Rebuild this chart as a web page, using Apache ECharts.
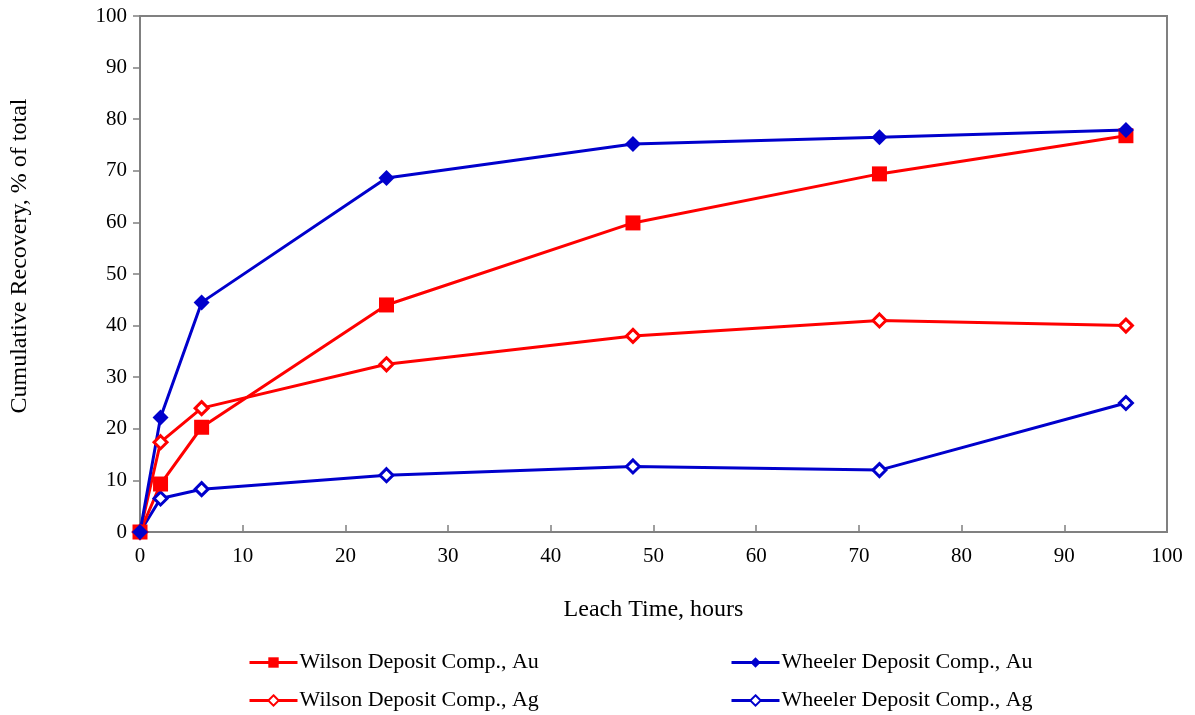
<!DOCTYPE html>
<html>
<head>
<meta charset="utf-8">
<script src="https://cdn.jsdelivr.net/npm/echarts@6/dist/echarts.min.js"></script>
<style>
  html, body { margin: 0; padding: 0; background: #fff; }
  #chart { width: 1195px; height: 715px; }
</style>
</head>
<body>
<div id="chart"></div>
<script>
// leach times (hours)
const hours = [0, 2, 6, 24, 48, 72, 96];

// cumulative recovery, % of total
const wilsonAu = [0, 9.3, 20.3, 44.0, 59.9, 69.4, 76.8];
const wheelerAu = [0, 22.2, 44.5, 68.6, 75.2, 76.5, 77.9];
const wilsonAg = [0, 17.4, 24.0, 32.5, 38.0, 41.0, 40.0];
const wheelerAg = [0, 6.5, 8.3, 11.0, 12.7, 12.0, 25.0];

const RED = '#ff0000';
const BLUE = '#0000cc';
const FONT = '"Liberation Serif", "Times New Roman", serif';

const chart = echarts.init(document.getElementById('chart'));

function pairs(vals) {
  return hours.map((h, i) => [h, vals[i]]);
}

// filled marker series
function solid(name, vals, color, symbol, size) {
  return {
    name: name,
    type: 'line',
    data: pairs(vals),
    symbol: symbol,
    symbolSize: size,
    lineStyle: { color: color, width: 3 },
    itemStyle: { color: color, borderColor: color, borderWidth: 0 },
  };
}

// hollow diamond series (Ag)
function hollow(name, vals, color) {
  return {
    name: name,
    type: 'line',
    data: pairs(vals),
    symbol: 'diamond',
    symbolSize: 13,
    lineStyle: { color: color, width: 3 },
    itemStyle: { color: '#fff', borderColor: color, borderWidth: 3 },
  };
}

const legendCommon = {
  orient: 'vertical',
  top: 650,
  padding: 0,
  itemWidth: 48,
  itemHeight: 13,
  itemGap: 13,
  lineStyle: { width: 3 },
  textStyle: { fontFamily: FONT, fontSize: 22, lineHeight: 25, color: '#000', padding: [0, 0, 0, -3] },
};

const option = {
  animation: false,
  backgroundColor: '#fff',
  legend: [
    Object.assign({ left: 248, data: ['Wilson Deposit Comp., Au', 'Wilson Deposit Comp., Ag'] }, legendCommon),
    Object.assign({ left: 730, data: ['Wheeler Deposit Comp., Au', 'Wheeler Deposit Comp., Ag'] }, legendCommon),
  ],
  grid: {
    left: 140,
    right: 28,
    top: 16,
    bottom: 183,
    show: true,
    borderColor: '#808080',
    borderWidth: 2,
  },
  xAxis: {
    type: 'value',
    min: 0,
    max: 100,
    interval: 10,
    name: 'Leach Time, hours',
    nameLocation: 'middle',
    nameGap: 66,
    nameTextStyle: { fontFamily: FONT, fontSize: 24, color: '#000' },
    axisLine: { lineStyle: { color: '#808080', width: 2 } },
    axisTick: { inside: true, length: 7, lineStyle: { color: '#808080', width: 1.5 } },
    axisLabel: { fontFamily: FONT, fontSize: 21, color: '#000', margin: 14 },
    splitLine: { show: false },
  },
  yAxis: {
    type: 'value',
    min: 0,
    max: 100,
    interval: 10,
    name: 'Cumulative Recovery, % of total',
    nameLocation: 'middle',
    nameGap: 108,
    nameTextStyle: { fontFamily: FONT, fontSize: 24, color: '#000', padding: [0, 0, 0, 36] },
    axisLine: { show: true, lineStyle: { color: '#808080', width: 2 } },
    axisTick: { show: true, length: 7, lineStyle: { color: '#808080', width: 1.5 } },
    axisLabel: { fontFamily: FONT, fontSize: 21, color: '#000', margin: 13 },
    splitLine: { show: false },
  },
  series: [
    hollow('Wheeler Deposit Comp., Ag', wheelerAg, BLUE),
    hollow('Wilson Deposit Comp., Ag', wilsonAg, RED),
    solid('Wilson Deposit Comp., Au', wilsonAu, RED, 'rect', 15),
    solid('Wheeler Deposit Comp., Au', wheelerAu, BLUE, 'diamond', 16),
  ],
};

chart.setOption(option);
</script>
</body>
</html>
